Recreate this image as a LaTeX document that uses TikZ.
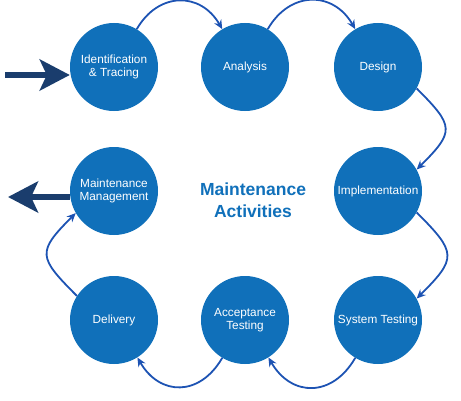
\documentclass[tikz,border=0pt]{standalone}
\usepackage{fontspec}
\setmainfont{Liberation Sans}
\usepackage{tikz}
\usetikzlibrary{arrows.meta}
\definecolor{phaseblue}{HTML}{1070BA}
\definecolor{linkblue}{HTML}{1D53B3}
\definecolor{navy}{HTML}{1A3D6D}
\tikzset{>={Stealth[length=9pt,width=8pt]}}
\tikzset{phase/.style={circle, fill=phaseblue, minimum size=88pt, inner sep=0pt,
    text=white, align=center, font=\fontsize{11.8}{13.5}\selectfont}}
\tikzset{link/.style={->, draw=linkblue, line width=1.8pt}}
\tikzset{bigarrow/.style={-{Stealth[length=30pt,width=31pt,inset=7pt]}, draw=navy, line width=6pt}}

\begin{document}
\begin{tikzpicture}[x=1pt, y=1pt]
      \useasboundingbox (0,0) rectangle (461,400);
      \node (ident) at (114,333) [phase] {Identification\\\& Tracing};
      \node (analysis) at (245,333) [phase] {Analysis};
      \node (design) at (378,333) [phase] {Design};
      \node (impl) at (378,209) [phase] {Implementation};
      \node (systest) at (378,80) [phase] {System Testing};
      \node (acctest) at (245,80) [phase] {Acceptance\\Testing};
      \node (delivery) at (114,80) [phase] {Delivery};
      \node (mgmt) at (114,209) [phase] {Maintenance\\Management};
      \node (title) at (253,200) [align=center, text=phaseblue,
        font=\fontsize{17.5}{22}\selectfont\bfseries] {Maintenance\\Activities};
      % cycle
      \draw[link] (ident.59) to[out=60, in=120, looseness=1.3] (analysis.121);
      \draw[link] (analysis.59) to[out=60, in=120, looseness=1.3] (design.121);
      \draw[link] (design.-29) to[out=-45, in=45, looseness=1.7] (impl.29);
      \draw[link] (impl.-29) to[out=-45, in=45, looseness=1.7] (systest.29);
      \draw[link] (systest.-121) to[out=-120, in=-60, looseness=1.35] (acctest.-58);
      \draw[link] (acctest.-121) to[out=-120, in=-60, looseness=1.35] (delivery.-58);
      \draw[link] (delivery.147) to[out=135, in=-135, looseness=1.7] (mgmt.210);
      % in and out
      \coordinate (inL) at (5,325);
      \coordinate (outL) at (8,203);
      \draw[bigarrow] (inL) -- (inL -| ident.west);
      \draw[bigarrow] (outL -| mgmt.west) -- (outL);
\end{tikzpicture}
\end{document}
